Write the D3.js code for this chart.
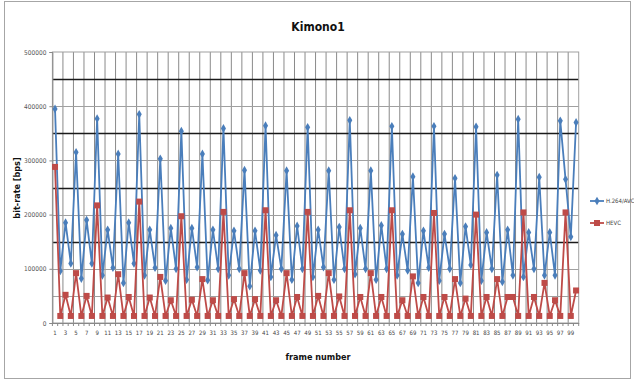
<!DOCTYPE html>
<html>
<head>
<meta charset="utf-8">
<script src="https://cdn.jsdelivr.net/npm/d3@7"></script>
<style>
  body { margin: 0; background: #fff; }
  svg { display: block; font-family: "DejaVu Sans Condensed", "DejaVu Sans", sans-serif; }
</style>
</head>
<body>
<svg id="chart" width="634" height="381"></svg>
<script>
// frame numbers 1..100
const frames = d3.range(1, 101);

const avcRates = [
  395000, 96000, 185000, 110000, 315000, 82000, 190000, 110000,
  377000, 88000, 172000, 102000, 312000, 74000, 185000, 110000,
  385000, 88000, 172000, 102000, 303000, 78000, 175000, 100000,
  354000, 80000, 175000, 103000, 312000, 79000, 172000, 100000,
  359000, 88000, 170000, 100000, 282000, 68000, 170000, 97000,
  364000, 85000, 162000, 100000, 281000, 80000, 179000, 100000,
  361000, 85000, 172000, 103000, 281000, 80000, 177000, 100000,
  374000, 90000, 175000, 100000, 281000, 80000, 180000, 100000,
  363000, 88000, 164000, 97000, 270000, 74000, 170000, 102000,
  363000, 78000, 164000, 100000, 267000, 74000, 178000, 107000,
  362000, 78000, 167000, 100000, 273000, 76000, 172000, 88000,
  376000, 85000, 167000, 100000, 269000, 88000, 167000, 88000,
  373000, 265000, 159000, 370000
];

const hevcRates = [
  288000, 13000, 52000, 13000, 92000, 13000, 50000, 13000,
  217000, 13000, 47000, 13000, 90000, 13000, 48000, 13000,
  224000, 13000, 47000, 13000, 85000, 13000, 42000, 13000,
  197000, 13000, 43000, 13000, 81000, 13000, 42000, 13000,
  205000, 13000, 44000, 13000, 92000, 13000, 44000, 13000,
  208000, 13000, 42000, 13000, 92000, 13000, 48000, 13000,
  205000, 13000, 50000, 13000, 92000, 13000, 49000, 13000,
  208000, 13000, 48000, 13000, 92000, 13000, 48000, 13000,
  208000, 13000, 42000, 13000, 86000, 13000, 48000, 13000,
  203000, 13000, 48000, 13000, 81000, 13000, 45000, 13000,
  200000, 13000, 48000, 13000, 81000, 13000, 48000, 48000,
  13000, 204000, 13000, 48000, 13000, 74000, 13000, 42000,
  13000, 204000, 13000, 60000
];

const yTicks = [0, 100000, 200000, 300000, 400000, 500000];
const yGrid = [50000, 100000, 150000, 200000, 250000, 300000, 350000, 400000, 450000];
const darkGrid = [150000, 250000, 350000, 450000];

const seriesNames = ["H.264/AVC", "HEVC"];
const seriesColors = ["#4a7ebb", "#be4b48"];

const svg = d3.select("#chart");
const W = 634, H = 381;
const plot = { left: 52.4, right: 578.7, top: 52, bottom: 323 };

// outer frame
svg.append("rect")
  .attr("x", 4.5).attr("y", 1.5)
  .attr("width", W - 8).attr("height", H - 4)
  .attr("fill", "#fff").attr("stroke", "#a6a6a6");

const x = d3.scaleBand().domain(frames).range([plot.left, plot.right]);
const y = d3.scaleLinear().domain([0, 500000]).range([plot.bottom, plot.top]);
const cx = f => x(f) + x.bandwidth() / 2;

// vertical gridlines every 2 frames
svg.append("g")
  .selectAll("line")
  .data(frames.filter(f => f % 2 === 1 && f > 1))
  .join("line")
  .attr("x1", f => x(f)).attr("x2", f => x(f))
  .attr("y1", plot.top).attr("y2", plot.bottom)
  .attr("stroke", "#8a8a8a").attr("stroke-width", 1);

// horizontal gridlines
svg.append("g")
  .selectAll("line")
  .data(yGrid)
  .join("line")
  .attr("x1", plot.left).attr("x2", plot.right)
  .attr("y1", d => Math.round(y(d)) + 0.5).attr("y2", d => Math.round(y(d)) + 0.5)
  .attr("stroke", d => darkGrid.includes(d) ? "#1a1a1a" : "#a0a0a0")
  .attr("stroke-width", d => darkGrid.includes(d) ? 1.3 : 1);

// plot border
svg.append("rect")
  .attr("x", plot.left).attr("y", plot.top)
  .attr("width", plot.right - plot.left).attr("height", plot.bottom - plot.top)
  .attr("fill", "none").attr("stroke", "#a0a0a0");

// y axis
const yAxis = svg.append("g")
  .attr("transform", `translate(${plot.left},0)`)
  .call(d3.axisLeft(y).tickValues(yTicks).tickSize(3).tickFormat(d3.format("d")));
yAxis.select(".domain").attr("stroke", "#888");
yAxis.selectAll(".tick line").attr("stroke", "#888");
yAxis.selectAll("text").attr("font-size", 6.5).attr("fill", "#555")
  .attr("font-family", "DejaVu Sans Condensed");

// x axis
const xAxis = svg.append("g")
  .attr("transform", `translate(0,${plot.bottom})`)
  .call(d3.axisBottom(x)
    .tickValues(frames.filter(f => f % 2 === 1))
    .tickSize(0)
    .tickPadding(8));
xAxis.select(".domain").attr("stroke", "#888");
xAxis.selectAll("text").attr("font-size", 6).attr("fill", "#444")
  .attr("font-family", "DejaVu Sans Condensed");
// category tick marks
svg.append("g")
  .selectAll("line")
  .data(frames.concat([101]))
  .join("line")
  .attr("x1", f => f === 101 ? plot.right : x(f))
  .attr("x2", f => f === 101 ? plot.right : x(f))
  .attr("y1", plot.bottom).attr("y2", plot.bottom + 3)
  .attr("stroke", "#888");

// series: AVC first, HEVC drawn on top
const line = d3.line().x((d, i) => cx(frames[i])).y(d => y(d));
const diamond = d3.symbol().type(d3.symbolDiamond).size(22);

svg.append("path")
  .datum(avcRates)
  .attr("d", line)
  .attr("fill", "none")
  .attr("stroke", seriesColors[0])
  .attr("stroke-width", 1.8)
  .attr("stroke-linejoin", "round");

svg.append("g")
  .selectAll("path")
  .data(avcRates)
  .join("path")
  .attr("d", diamond)
  .attr("transform", (d, i) => `translate(${cx(frames[i])},${y(d)})`)
  .attr("fill", seriesColors[0]);

svg.append("path")
  .datum(hevcRates)
  .attr("d", line)
  .attr("fill", "none")
  .attr("stroke", seriesColors[1])
  .attr("stroke-width", 1.8)
  .attr("stroke-linejoin", "round");

svg.append("g")
  .selectAll("rect")
  .data(hevcRates)
  .join("rect")
  .attr("x", (d, i) => cx(frames[i]) - 3)
  .attr("y", d => y(d) - 3)
  .attr("width", 6).attr("height", 6)
  .attr("fill", seriesColors[1]);

// legend
const legend = svg.append("g").attr("transform", "translate(590,0)");
seriesNames.forEach((name, s) => {
  const ly = 201 + s * 22;
  legend.append("line")
    .attr("x1", 0).attr("x2", 14).attr("y1", ly).attr("y2", ly)
    .attr("stroke", seriesColors[s]).attr("stroke-width", 1.8);
  if (s === 0) {
    legend.append("path").attr("d", diamond)
      .attr("transform", `translate(7,${ly})`).attr("fill", seriesColors[s]);
  } else {
    legend.append("rect").attr("x", 4).attr("y", ly - 3)
      .attr("width", 6).attr("height", 6).attr("fill", seriesColors[s]);
  }
  legend.append("text")
    .attr("x", 16).attr("y", ly + 2)
    .attr("font-size", 6).attr("fill", "#444")
    .text(name);
});

// titles
svg.append("text")
  .attr("x", 318).attr("y", 31)
  .attr("text-anchor", "middle")
  .attr("font-size", 12).attr("font-weight", "bold").attr("fill", "#111")
  .text("Kimono1");

svg.append("text")
  .attr("transform", "translate(20,188) rotate(-90)")
  .attr("text-anchor", "middle")
  .attr("font-size", 9).attr("font-weight", "bold").attr("fill", "#111")
  .text("bit-rate [bps]");

svg.append("text")
  .attr("x", 318).attr("y", 360)
  .attr("text-anchor", "middle")
  .attr("font-size", 9).attr("font-weight", "bold").attr("fill", "#111")
  .text("frame number");
</script>
</body>
</html>
